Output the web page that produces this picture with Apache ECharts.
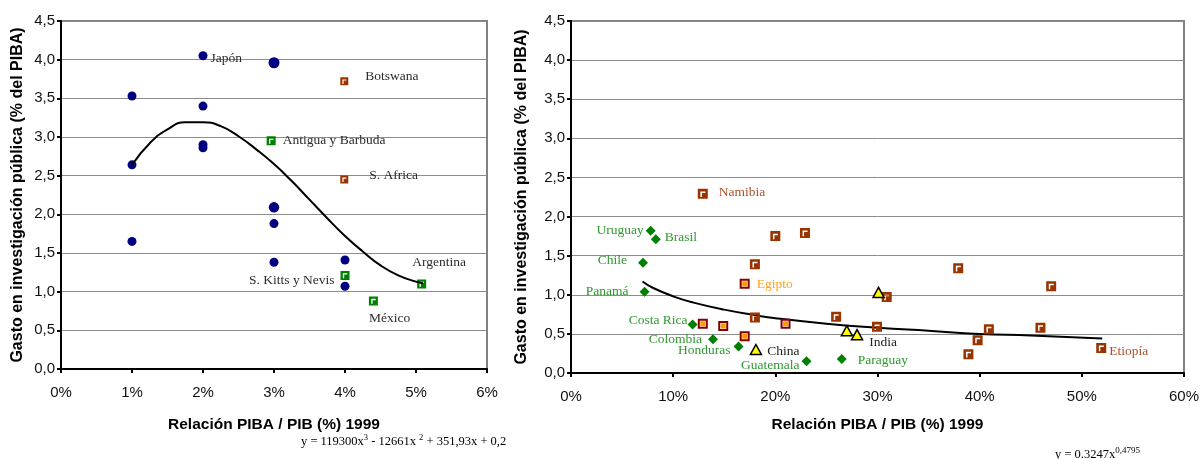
<!DOCTYPE html>
<html>
<head>
<meta charset="utf-8">
<script src="https://cdn.jsdelivr.net/npm/echarts/dist/echarts.min.js"></script>
<style>
  html, body { margin: 0; padding: 0; background: #fff; }
  #chart { width: 1202px; height: 459px; }
</style>
</head>
<body>
<div id="chart"></div>
<script>
// ---- Left panel: public research spending vs PIBA/PIB ratio (low ratios) ----
const leftCircleNames = ['', 'Japón', '', '', '', '', '', '', '', '', '', '', ''];
const leftCircleX = [1, 2, 1, 1, 2, 2, 2, 3, 3, 3, 3, 4, 4];
const leftCircleY = [3.53, 4.05, 2.64, 1.65, 3.40, 2.86, 2.90, 3.96, 2.09, 1.88, 1.38, 1.41, 1.07];

const leftGreenNames = ['Antigua y Barbuda', 'S. Kitts y Nevis', 'México', 'Argentina'];
const leftGreenX = [2.96, 4.0, 4.40, 5.08];
const leftGreenY = [2.95, 1.21, 0.88, 1.10];

const leftBrownNames = ['Botswana', 'S. Africa'];
const leftBrownX = [3.99, 3.99];
const leftBrownY = [3.72, 2.45];

const leftTrendX = [1.0, 1.25, 1.5, 1.75, 2.0, 2.25, 2.5, 2.75, 3.0, 3.25, 3.5, 3.75, 4.0, 4.25, 4.5, 4.75, 5.0, 5.1];
const leftTrendY = [2.64, 2.92, 3.10, 3.19, 3.19, 3.14, 3.01, 2.84, 2.65, 2.43, 2.19, 1.95, 1.72, 1.52, 1.34, 1.21, 1.13, 1.11];

const leftXTicks = ['0%', '1%', '2%', '3%', '4%', '5%', '6%'];

// ---- Right panel: higher PIBA/PIB ratios ----
const greenNames = ['Uruguay', 'Brasil', 'Chile', 'Panamá', 'Costa Rica', 'Colombia', 'Honduras', 'Guatemala', 'Paraguay'];
const greenX = [7.8, 8.3, 7.05, 7.2, 11.9, 13.9, 16.4, 23.05, 26.5];
const greenY = [1.82, 1.71, 1.41, 1.04, 0.62, 0.43, 0.34, 0.15, 0.18];

const triNames = ['China', '', 'India', ''];
const triX = [18.1, 27.0, 28.0, 30.1];
const triY = [0.30, 0.54, 0.49, 1.03];

const brownNames = ['Namibia', '', '', '', '', '', '', '', '', '', '', '', '', '', 'Etiopía'];
const brownX = [12.9, 20.0, 22.9, 18.0, 18.0, 25.95, 37.9, 47.0, 30.9, 29.95, 40.9, 45.95, 39.8, 38.9, 51.9];
const brownY = [2.29, 1.75, 1.79, 1.39, 0.71, 0.72, 1.34, 1.11, 0.97, 0.59, 0.56, 0.58, 0.42, 0.24, 0.32];

const orangeNames = ['Egipto', '', '', '', ''];
const orangeX = [17.0, 12.9, 14.9, 17.0, 21.0];
const orangeY = [1.14, 0.63, 0.60, 0.47, 0.63];

const rightTrendX = [7, 8, 10, 12, 15, 18, 20, 25, 30, 35, 40, 45, 52];
const rightTrendY = [1.17, 1.09, 0.98, 0.90, 0.81, 0.74, 0.70, 0.63, 0.58, 0.54, 0.50, 0.48, 0.44];

const rightXTicks = ['0%', '10%', '20%', '30%', '40%', '50%', '60%'];

// ---- Styling ----
const SANS = '"Liberation Sans", Arial, sans-serif';
const SERIF = '"Liberation Serif", "Times New Roman", serif';
const LABEL_DARK = '#2b2b2b';
const LABEL_GREEN = '#2f982f';
const LABEL_BROWN = '#a9502a';
const LABEL_ORANGE = '#ffa31a';

// Square marker with a white corner notch
const notchedSquare = 'path://M0,0L10,0L10,10L0,10ZM2.6,2.6L2.6,8.2L4.1,8.2L4.1,4.1L7.6,4.1L7.6,2.6Z';

const labelPlacement = {
  'Japón': { position: 'right', distance: 3, offset: [0, 3], color: LABEL_DARK },
  'Botswana': { position: 'right', distance: 5, offset: [12, -5], color: LABEL_DARK },
  'Antigua y Barbuda': { position: 'right', distance: 7, offset: [0, 0], color: LABEL_DARK },
  'S. Africa': { position: 'right', distance: 5, offset: [16, -4], color: LABEL_DARK },
  'Argentina': { position: 'right', distance: 0, offset: [-14, -21], color: LABEL_DARK },
  'S. Kitts y Nevis': { position: 'left', distance: 6, offset: [0, 5], color: LABEL_DARK },
  'México': { position: 'right', distance: 0, offset: [-9, 18], color: LABEL_DARK },
  'Namibia': { position: 'right', distance: 11, offset: [0, -1], color: LABEL_BROWN },
  'Etiopía': { position: 'right', distance: 3, offset: [0, 3], color: LABEL_BROWN },
  'Egipto': { position: 'right', distance: 7, offset: [0, 1], color: LABEL_ORANGE },
  'Uruguay': { position: 'left', distance: 2, offset: [0, 0], color: LABEL_GREEN },
  'Brasil': { position: 'right', distance: 4, offset: [0, -2], color: LABEL_GREEN },
  'Chile': { position: 'left', distance: 11, offset: [0, -2], color: LABEL_GREEN },
  'Panamá': { position: 'left', distance: 11, offset: [0, 0], color: LABEL_GREEN },
  'Costa Rica': { position: 'left', distance: 0, offset: [0, -4], color: LABEL_GREEN },
  'Colombia': { position: 'left', distance: 6, offset: [0, 0], color: LABEL_GREEN },
  'Honduras': { position: 'left', distance: 3, offset: [0, 4], color: LABEL_GREEN },
  'Guatemala': { position: 'left', distance: 2, offset: [0, 4], color: LABEL_GREEN },
  'Paraguay': { position: 'right', distance: 11, offset: [0, 2], color: LABEL_GREEN },
  'China': { position: 'right', distance: 5, offset: [0, 2], color: '#222222' },
  'India': { position: 'right', distance: 6, offset: [0, 8], color: '#222222' }
};

function points(names, xs, ys, sizes, withLabels) {
  return xs.map((x, i) => {
    const item = { name: names[i] || '', value: [x, ys[i]] };
    if (sizes && sizes[i]) item.symbolSize = sizes[i];
    const p = labelPlacement[names[i]];
    if (p && withLabels !== false) {
      item.label = {
        show: true,
        formatter: '{b}',
        position: p.position,
        distance: p.distance,
        offset: p.offset,
        color: p.color,
        fontFamily: SERIF,
        fontSize: 13.5
      };
    }
    return item;
  });
}

function pairs(xs, ys) {
  return xs.map((x, i) => [x, ys[i]]);
}

const yFmt = v => v.toFixed(1).replace('.', ',');

function xAxisFor(gridIndex, max, interval, ticks, nameGap) {
  return {
    gridIndex, type: 'value', min: 0, max, interval,
    name: 'Relación PIBA / PIB (%) 1999',
    nameLocation: 'middle', nameGap,
    nameTextStyle: { fontFamily: SANS, fontSize: 15.5, fontWeight: 'bold', color: '#000' },
    axisLine: { show: true, onZero: false, lineStyle: { color: '#000', width: 2 } },
    axisTick: { show: true, inside: false, length: 4, lineStyle: { color: '#000', width: 2 } },
    axisLabel: {
      fontFamily: SANS, fontSize: 15, color: '#111', margin: 16,
      formatter: v => ticks[Math.round(v / interval)]
    },
    splitLine: { show: false }
  };
}

function yAxisFor(gridIndex, nameGap) {
  return {
    gridIndex, type: 'value', min: 0, max: 4.5, interval: 0.5,
    name: 'Gasto en investigación pública (% del PIBA)',
    nameLocation: 'middle', nameRotate: 90, nameGap,
    nameTextStyle: { fontFamily: SANS, fontSize: 16, fontWeight: 'bold', color: '#000' },
    axisLine: { show: true, onZero: false, lineStyle: { color: '#000', width: 2 } },
    axisTick: { show: true, inside: false, length: 4, lineStyle: { color: '#000', width: 2 } },
    axisLabel: { fontFamily: SANS, fontSize: 15, color: '#111', margin: 6, formatter: yFmt },
    splitLine: { show: true, lineStyle: { color: '#8c8c8c', width: 1 } }
  };
}

const option = {
  animation: false,
  backgroundColor: '#ffffff',
  grid: [
    { left: 61, top: 21, width: 426, height: 348, show: true, borderColor: '#808080', borderWidth: 2, backgroundColor: 'transparent' },
    { left: 571, top: 21, width: 614, height: 352, show: true, borderColor: '#808080', borderWidth: 2, backgroundColor: 'transparent' }
  ],
  xAxis: [
    xAxisFor(0, 6, 1, leftXTicks, 48),
    xAxisFor(1, 60, 10, rightXTicks, 44)
  ],
  yAxis: [
    yAxisFor(0, 35),
    yAxisFor(1, 41)
  ],
  series: [
    {
      type: 'line', xAxisIndex: 0, yAxisIndex: 0, silent: true, z: 3,
      showSymbol: false, smooth: true,
      lineStyle: { color: '#000', width: 2 },
      data: pairs(leftTrendX, leftTrendY)
    },
    {
      type: 'scatter', xAxisIndex: 0, yAxisIndex: 0, silent: true,
      symbol: 'circle', symbolSize: 9,
      itemStyle: { color: '#000080', opacity: 1 },
      data: points(leftCircleNames, leftCircleX, leftCircleY, [0, 0, 0, 0, 0, 0, 0, 11, 10.5, 0, 0, 0, 0])
    },
    {
      type: 'scatter', xAxisIndex: 0, yAxisIndex: 0, silent: true,
      symbol: notchedSquare, symbolSize: 9,
      itemStyle: { color: '#008000', opacity: 1 },
      data: points(leftGreenNames, leftGreenX, leftGreenY)
    },
    {
      type: 'scatter', xAxisIndex: 0, yAxisIndex: 0, silent: true,
      symbol: notchedSquare, symbolSize: 8,
      itemStyle: { color: '#993300', opacity: 1 },
      data: points(leftBrownNames, leftBrownX, leftBrownY)
    },
    {
      type: 'line', xAxisIndex: 1, yAxisIndex: 1, silent: true, z: 1,
      showSymbol: false, smooth: true,
      lineStyle: { color: '#000', width: 2 },
      data: pairs(rightTrendX, rightTrendY)
    },
    {
      type: 'scatter', xAxisIndex: 1, yAxisIndex: 1, silent: true,
      symbol: 'diamond', symbolSize: 10,
      itemStyle: { color: '#008000', opacity: 1 },
      data: points(greenNames, greenX, greenY)
    },
    {
      type: 'scatter', xAxisIndex: 1, yAxisIndex: 1, silent: true,
      symbol: notchedSquare, symbolSize: 10,
      itemStyle: { color: '#993300', opacity: 1 },
      data: points(brownNames, brownX, brownY)
    },
    {
      // framed square: dark red frame with a white ring
      type: 'scatter', xAxisIndex: 1, yAxisIndex: 1, silent: true,
      symbol: 'rect', symbolSize: 8,
      itemStyle: { color: '#ffffff', borderColor: '#800000', borderWidth: 2, opacity: 1 },
      data: points(orangeNames, orangeX, orangeY)
    },
    {
      // orange core of the framed square
      type: 'scatter', xAxisIndex: 1, yAxisIndex: 1, silent: true, z: 3,
      symbol: 'rect', symbolSize: 5,
      itemStyle: { color: '#ff9900', opacity: 1 },
      data: points(orangeNames, orangeX, orangeY, null, false)
    },
    {
      type: 'scatter', xAxisIndex: 1, yAxisIndex: 1, silent: true, z: 4,
      symbol: 'triangle', symbolSize: [11, 10],
      itemStyle: { color: '#ffff00', borderColor: '#000', borderWidth: 1.5, opacity: 1 },
      data: points(triNames, triX, triY)
    }
  ],
  graphic: [
    {
      type: 'text', left: 301, top: 433, silent: true,
      style: {
        text: '{n|y = 119300x}{s|3}{n| - 12661x }{s|2}{n| + 351,93x + 0,2}',
        rich: {
          n: { fontFamily: SERIF, fontSize: 12.5, color: '#000', verticalAlign: 'bottom', lineHeight: 15 },
          s: { fontFamily: SERIF, fontSize: 8.5, color: '#000', verticalAlign: 'top', lineHeight: 15 }
        }
      }
    },
    {
      type: 'text', left: 1055, top: 446, silent: true,
      style: {
        text: '{n|y = 0.3247x}{s|0,4795}',
        rich: {
          n: { fontFamily: SERIF, fontSize: 12.5, color: '#000', verticalAlign: 'bottom', lineHeight: 15 },
          s: { fontFamily: SERIF, fontSize: 9, color: '#000', verticalAlign: 'top', lineHeight: 15 }
        }
      }
    }
  ]
};

const chart = echarts.init(document.getElementById('chart'), null, { renderer: 'canvas' });
chart.setOption(option);
</script>
</body>
</html>
